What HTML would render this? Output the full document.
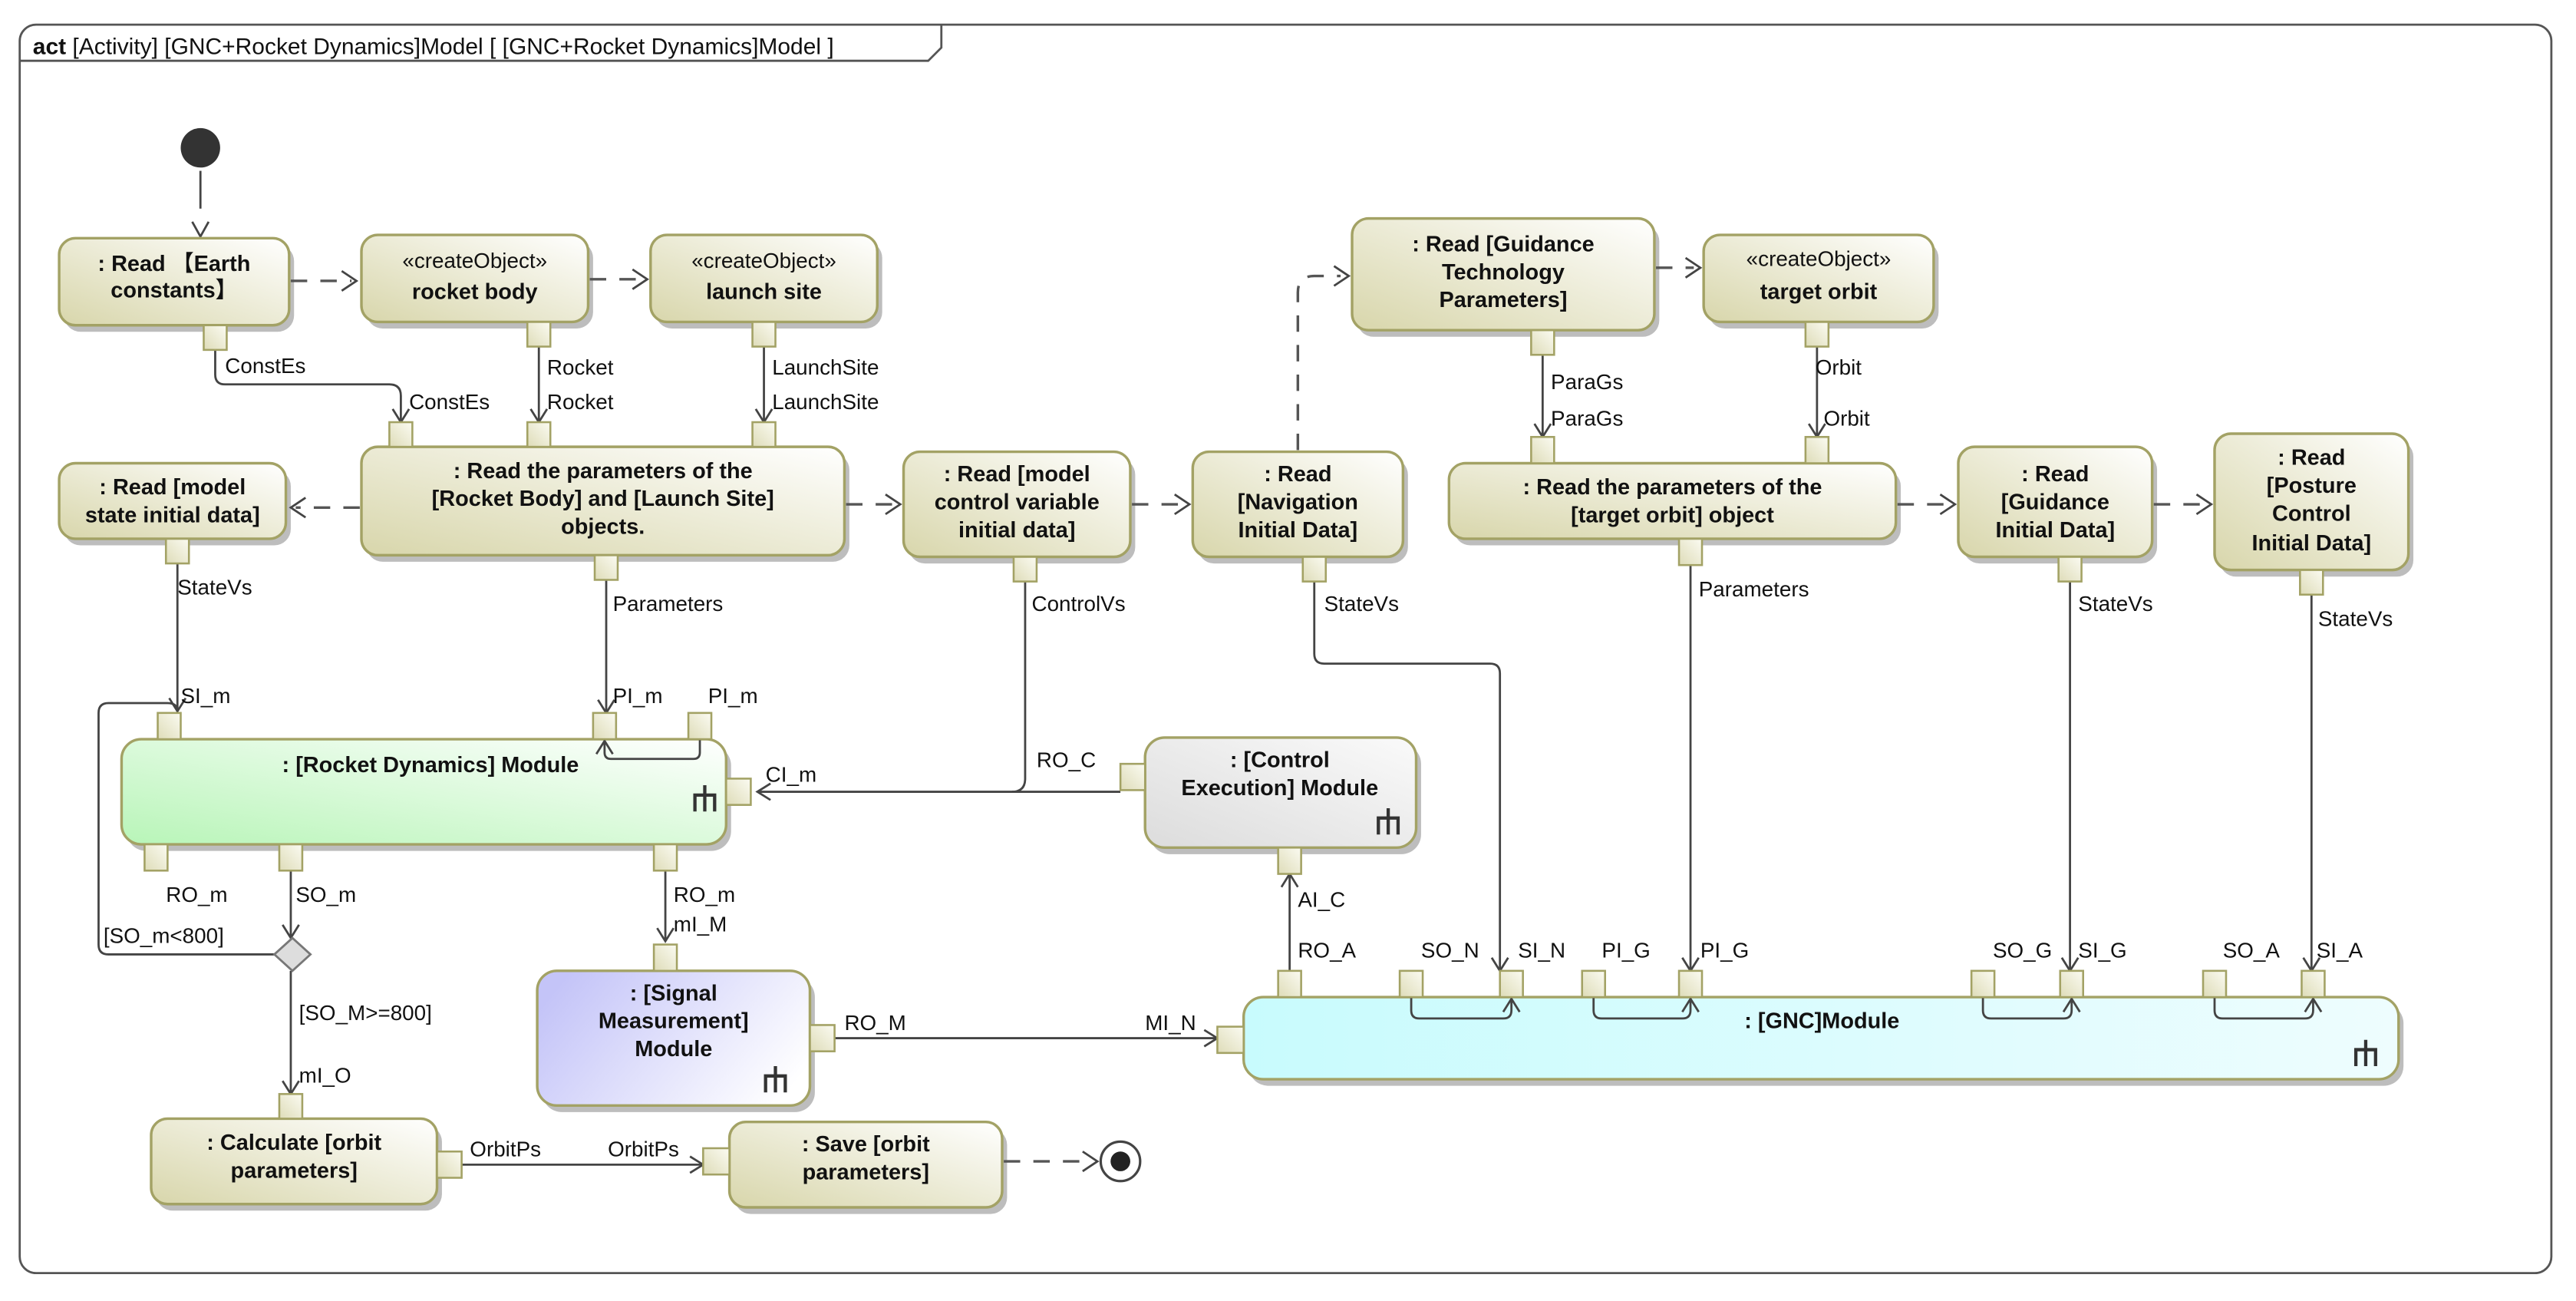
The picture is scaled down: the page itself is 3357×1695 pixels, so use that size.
<!DOCTYPE html>
<html><head><meta charset="utf-8"><style>
html,body{margin:0;padding:0;background:#fff;}
svg{display:block;}
.n{font-family:"Liberation Sans","Noto Sans CJK SC",sans-serif;font-weight:bold;font-size:13.5px;fill:#111;text-anchor:middle;}
.s{font-family:"Liberation Sans","Noto Sans CJK SC",sans-serif;font-size:13px;fill:#111;text-anchor:middle;}
.l{font-family:"Liberation Sans",sans-serif;font-size:13px;fill:#111;}
.e{fill:none;stroke:#444;stroke-width:1.3;}
.d{fill:none;stroke:#555;stroke-width:1.6;stroke-dasharray:10,8;}
.a{fill:none;stroke:#444;stroke-width:1.3;}
.o{fill:url(#go);stroke:#a3a265;stroke-width:1.6;}
.p{fill:url(#gp);stroke:#a3a265;stroke-width:1.2;}
.sh{fill:#bdbdbd;}
</style></head><body>
<svg width="3357" height="1695" viewBox="0 0 1568 792" preserveAspectRatio="none" xmlns="http://www.w3.org/2000/svg">
<defs>
<linearGradient id="go" x1="0" y1="1" x2="1" y2="0"><stop offset="0" stop-color="#d8d6ab"/><stop offset="1" stop-color="#ffffff"/></linearGradient>
<linearGradient id="gp" x1="0" y1="1" x2="1" y2="0"><stop offset="0" stop-color="#dedcb8"/><stop offset="1" stop-color="#fbfbf2"/></linearGradient>
<linearGradient id="gg" x1="0" y1="1" x2="1" y2="0"><stop offset="0" stop-color="#b8f5b8"/><stop offset="1" stop-color="#ffffff"/></linearGradient>
<linearGradient id="gl" x1="0" y1="0.3" x2="1" y2="0.7"><stop offset="0" stop-color="#c4c4f8"/><stop offset="1" stop-color="#ffffff"/></linearGradient>
<linearGradient id="gc" x1="0" y1="0" x2="1" y2="0"><stop offset="0" stop-color="#c8fbfd"/><stop offset="1" stop-color="#eefdfe"/></linearGradient>
<linearGradient id="gy" x1="0" y1="1" x2="1" y2="0"><stop offset="0" stop-color="#dcdcdc"/><stop offset="1" stop-color="#fafafa"/></linearGradient>
</defs>

<!-- frame -->
<rect x="12" y="15" width="1541" height="760" rx="10" fill="#fff" stroke="#555" stroke-width="1.3"/>
<path d="M12 37 H565 L573 29 V15" fill="none" stroke="#555" stroke-width="1.3"/>
<text x="20" y="33" class="l" style="font-size:14px"><tspan font-weight="bold">act</tspan> [Activity] [GNC+Rocket Dynamics]Model [ [GNC+Rocket Dynamics]Model ]</text>

<!-- initial node -->
<circle cx="122" cy="90" r="12" fill="#333"/>
<line x1="122" y1="104" x2="122" y2="127" class="e"/>
<polyline points="117,135 122,144 127,135" class="a"/>

<!-- shadows -->
<g class="sh">
<rect x="39" y="149" width="140" height="53" rx="10"/>
<rect x="223" y="147" width="138" height="53" rx="10"/>
<rect x="399" y="147" width="138" height="53" rx="10"/>
<rect x="39" y="286" width="138" height="46" rx="10"/>
<rect x="223" y="276" width="294" height="66" rx="10"/>
<rect x="553" y="279" width="138" height="64" rx="10"/>
<rect x="729" y="279" width="128" height="64" rx="10"/>
<rect x="826" y="137" width="184" height="68" rx="10"/>
<rect x="1040" y="147" width="140" height="53" rx="10"/>
<rect x="885" y="286" width="272" height="46" rx="10"/>
<rect x="1195" y="276" width="118" height="67" rx="10"/>
<rect x="1351" y="268" width="118" height="83" rx="10"/>
<rect x="77" y="454" width="368" height="64" rx="12"/>
<rect x="700" y="453" width="165" height="67" rx="12"/>
<rect x="330" y="595" width="166" height="82" rx="12"/>
<rect x="760" y="611" width="703" height="50" rx="12"/>
<rect x="95" y="685" width="174" height="52" rx="10"/>
<rect x="447" y="687" width="166" height="52" rx="10"/>
</g>

<!-- action nodes -->
<rect x="36" y="145" width="140" height="53" rx="10" class="o"/>
<text x="106" y="165" class="n">: Read 【Earth</text><text x="106" y="181" class="n">constants】</text>
<rect x="220" y="143" width="138" height="53" rx="10" class="o"/>
<text x="289" y="163" class="s">«createObject»</text><text x="289" y="182" class="n">rocket body</text>
<rect x="396" y="143" width="138" height="53" rx="10" class="o"/>
<text x="465" y="163" class="s">«createObject»</text><text x="465" y="182" class="n">launch site</text>
<rect x="36" y="282" width="138" height="46" rx="10" class="o"/>
<text x="105" y="301" class="n">: Read [model</text><text x="105" y="318" class="n">state initial data]</text>
<rect x="220" y="272" width="294" height="66" rx="10" class="o"/>
<text x="367" y="291" class="n">: Read the parameters of the</text><text x="367" y="308" class="n">[Rocket Body] and [Launch Site]</text><text x="367" y="325" class="n">objects.</text>
<rect x="550" y="275" width="138" height="64" rx="10" class="o"/>
<text x="619" y="293" class="n">: Read [model</text><text x="619" y="310" class="n">control variable</text><text x="619" y="327" class="n">initial data]</text>
<rect x="726" y="275" width="128" height="64" rx="10" class="o"/>
<text x="790" y="293" class="n">: Read</text><text x="790" y="310" class="n">[Navigation</text><text x="790" y="327" class="n">Initial Data]</text>
<rect x="823" y="133" width="184" height="68" rx="10" class="o"/>
<text x="915" y="153" class="n">: Read [Guidance</text><text x="915" y="170" class="n">Technology</text><text x="915" y="187" class="n">Parameters]</text>
<rect x="1037" y="143" width="140" height="53" rx="10" class="o"/>
<text x="1107" y="162" class="s">«createObject»</text><text x="1107" y="182" class="n">target orbit</text>
<rect x="882" y="282" width="272" height="46" rx="10" class="o"/>
<text x="1018" y="301" class="n">: Read the parameters of the</text><text x="1018" y="318" class="n">[target orbit] object</text>
<rect x="1192" y="272" width="118" height="67" rx="10" class="o"/>
<text x="1251" y="293" class="n">: Read</text><text x="1251" y="310" class="n">[Guidance</text><text x="1251" y="327" class="n">Initial Data]</text>
<rect x="1348" y="264" width="118" height="83" rx="10" class="o"/>
<text x="1407" y="283" class="n">: Read</text><text x="1407" y="300" class="n">[Posture</text><text x="1407" y="317" class="n">Control</text><text x="1407" y="335" class="n">Initial Data]</text>

<!-- modules -->
<rect x="74" y="450" width="368" height="64" rx="12" fill="url(#gg)" stroke="#a3a265" stroke-width="1.6"/>
<text x="262" y="470" class="n">: [Rocket Dynamics] Module</text>
<rect x="697" y="449" width="165" height="67" rx="12" fill="url(#gy)" stroke="#a3a265" stroke-width="1.6"/>
<text x="779" y="467" class="n">: [Control</text><text x="779" y="484" class="n">Execution] Module</text>
<rect x="327" y="591" width="166" height="82" rx="12" fill="url(#gl)" stroke="#a3a265" stroke-width="1.6"/>
<text x="410" y="609" class="n">: [Signal</text><text x="410" y="626" class="n">Measurement]</text><text x="410" y="643" class="n">Module</text>
<rect x="757" y="607" width="703" height="50" rx="12" fill="url(#gc)" stroke="#a3a265" stroke-width="1.6"/>
<text x="1109" y="626" class="n">: [GNC]Module</text>
<rect x="92" y="681" width="174" height="52" rx="10" class="o"/>
<text x="179" y="700" class="n">: Calculate [orbit</text><text x="179" y="717" class="n">parameters]</text>
<rect x="444" y="683" width="166" height="52" rx="10" class="o"/>
<text x="527" y="701" class="n">: Save [orbit</text><text x="527" y="718" class="n">parameters]</text>

<!-- fork icons -->
<g fill="none" stroke="#333" stroke-width="2">
<path d="M423 494 V484 H435 V494 M429 494 V478"/>
<path d="M839 508 V498 H851 V508 M845 508 V492"/>
<path d="M466 665 V655 H478 V665 M472 665 V649"/>
<path d="M1434 649 V639 H1446 V649 M1440 649 V633"/>
</g>

<!-- control flows (dashed) -->
<line x1="177" y1="171" x2="214" y2="171" class="d"/><polyline points="208,165 217,171 208,177" class="a"/>
<line x1="359" y1="170" x2="390" y2="170" class="d"/><polyline points="385,164 394,170 385,176" class="a"/>
<line x1="219" y1="309" x2="180" y2="309" class="d"/><polyline points="186,303 177,309 186,315" class="a"/>
<line x1="515" y1="307" x2="544" y2="307" class="d"/><polyline points="539,301 548,307 539,313" class="a"/>
<line x1="689" y1="307" x2="720" y2="307" class="d"/><polyline points="715,301 724,307 715,313" class="a"/>
<path d="M790 274 V178 Q790 168 800 168 H816" class="d"/><polyline points="812,162 821,168 812,174" class="a"/>
<line x1="1008" y1="163" x2="1031" y2="163" class="d"/><polyline points="1026,157 1035,163 1026,169" class="a"/>
<line x1="1155" y1="307" x2="1186" y2="307" class="d"/><polyline points="1181,301 1190,307 1181,313" class="a"/>
<line x1="1311" y1="307" x2="1342" y2="307" class="d"/><polyline points="1337,301 1346,307 1337,313" class="a"/>
<line x1="611" y1="707" x2="660" y2="707" class="d"/><polyline points="659,701 668,707 659,713" class="a"/>
<circle cx="682" cy="707" r="12" fill="#fff" stroke="#444" stroke-width="1.5"/>
<circle cx="682" cy="707" r="6" fill="#222"/>

<!-- object flows -->
<g class="e">
<path d="M131 213 V228 Q131 234 137 234 H237 Q244 234 244 241 V257"/>
<line x1="328" y1="211" x2="328" y2="257"/>
<line x1="465" y1="211" x2="465" y2="257"/>
<line x1="939" y1="216" x2="939" y2="266"/>
<line x1="1106" y1="211" x2="1106" y2="266"/>
<line x1="108" y1="343" x2="108" y2="433"/>
<line x1="369" y1="353" x2="369" y2="434"/>
<path d="M426 450 V458 Q426 462 422 462 H372 Q368 462 368 458 V451"/>
<path d="M624 354 V474 Q624 482 616 482 H461"/>
<line x1="682" y1="482" x2="616" y2="482"/>
<path d="M800 354 V398 Q800 404 806 404 H907 Q913 404 913 410 V591"/>
<line x1="1029" y1="344" x2="1029" y2="591"/>
<line x1="1260" y1="354" x2="1260" y2="591"/>
<line x1="1407" y1="362" x2="1407" y2="591"/>
<line x1="785" y1="591" x2="785" y2="532"/>
<path d="M859 607 V615 Q859 620 864 620 H915 Q920 620 920 615 V608"/>
<path d="M970 607 V615 Q970 620 975 620 H1024 Q1029 620 1029 615 V608"/>
<path d="M1207 607 V615 Q1207 620 1212 620 H1256 Q1261 620 1261 615 V608"/>
<path d="M1348 607 V615 Q1348 620 1353 620 H1403 Q1408 620 1408 615 V608"/>
<line x1="508" y1="632" x2="741" y2="632"/>
<line x1="405" y1="530" x2="405" y2="573"/>
<line x1="177" y1="530" x2="177" y2="571"/>
<path d="M168 581 H66 Q60 581 60 575 V434 Q60 428 66 428 H102 Q108 428 108 433"/>
<line x1="177" y1="591" x2="177" y2="666"/>
<line x1="281" y1="709" x2="428" y2="709"/>
<line x1="95" y1="516" x2="95" y2="527"/>
</g>
<!-- arrowheads -->
<g class="a">
<polyline points="239,249 244,257 249,249"/>
<polyline points="323,249 328,257 333,249"/>
<polyline points="460,249 465,257 470,249"/>
<polyline points="934,258 939,266 944,258"/>
<polyline points="1101,258 1106,266 1111,258"/>
<polyline points="103,425 108,433 113,425"/>
<polyline points="364,426 369,434 374,426"/>
<polyline points="363,459 368,451 373,459"/>
<polyline points="469,477 461,482 469,487"/>
<polyline points="908,583 913,591 918,583"/>
<polyline points="1024,583 1029,591 1034,583"/>
<polyline points="1255,583 1260,591 1265,583"/>
<polyline points="1402,583 1407,591 1412,583"/>
<polyline points="780,540 785,532 790,540"/>
<polyline points="915,616 920,608 925,616"/>
<polyline points="1024,616 1029,608 1034,616"/>
<polyline points="1256,616 1261,608 1266,616"/>
<polyline points="1403,616 1408,608 1413,616"/>
<polyline points="733,627 741,632 733,637"/>
<polyline points="400,565 405,573 410,565"/>
<polyline points="172,563 177,571 182,563"/>
<polyline points="172,658 177,666 182,658"/>
<polyline points="420,704 428,709 420,714"/>
<polyline points="92,523 95,527 98,523"/>
</g>
<!-- decision -->
<polygon points="178,571 189,581 178,591 167,581" fill="#ddd" stroke="#777" stroke-width="1.3"/>

<!-- pins -->
<g class="p">
<rect x="124" y="198" width="14" height="15"/>
<rect x="321" y="196" width="14" height="15"/>
<rect x="458" y="196" width="14" height="15"/>
<rect x="237" y="257" width="14" height="15"/>
<rect x="321" y="257" width="14" height="15"/>
<rect x="458" y="257" width="14" height="15"/>
<rect x="101" y="328" width="14" height="15"/>
<rect x="362" y="338" width="14" height="15"/>
<rect x="617" y="339" width="14" height="15"/>
<rect x="793" y="339" width="14" height="15"/>
<rect x="932" y="201" width="14" height="15"/>
<rect x="1099" y="196" width="14" height="15"/>
<rect x="932" y="266" width="14" height="16"/>
<rect x="1099" y="266" width="14" height="16"/>
<rect x="1022" y="328" width="14" height="16"/>
<rect x="1253" y="339" width="14" height="15"/>
<rect x="1400" y="347" width="14" height="15"/>
<rect x="96" y="434" width="14" height="16"/>
<rect x="361" y="434" width="14" height="16"/>
<rect x="419" y="434" width="14" height="16"/>
<rect x="442" y="474" width="15" height="16"/>
<rect x="682" y="465" width="15" height="16"/>
<rect x="88" y="514" width="14" height="16"/>
<rect x="170" y="514" width="14" height="16"/>
<rect x="398" y="514" width="14" height="16"/>
<rect x="398" y="575" width="14" height="16"/>
<rect x="778" y="516" width="14" height="16"/>
<rect x="493" y="624" width="15" height="16"/>
<rect x="741" y="625" width="16" height="16"/>
<rect x="778" y="591" width="14" height="16"/>
<rect x="852" y="591" width="14" height="16"/>
<rect x="913" y="591" width="14" height="16"/>
<rect x="963" y="591" width="14" height="16"/>
<rect x="1022" y="591" width="14" height="16"/>
<rect x="1200" y="591" width="14" height="16"/>
<rect x="1254" y="591" width="14" height="16"/>
<rect x="1341" y="591" width="14" height="16"/>
<rect x="1401" y="591" width="14" height="16"/>
<rect x="170" y="666" width="14" height="15"/>
<rect x="266" y="701" width="15" height="16"/>
<rect x="428" y="699" width="16" height="16"/>
</g>

<!-- edge labels -->
<g class="l">
<text x="137" y="227">ConstEs</text>
<text x="249" y="249">ConstEs</text>
<text x="333" y="228">Rocket</text>
<text x="333" y="249">Rocket</text>
<text x="470" y="228">LaunchSite</text>
<text x="470" y="249">LaunchSite</text>
<text x="944" y="237">ParaGs</text>
<text x="944" y="259">ParaGs</text>
<text x="1105" y="228">Orbit</text>
<text x="1110" y="259">Orbit</text>
<text x="108" y="362">StateVs</text>
<text x="373" y="372">Parameters</text>
<text x="628" y="372">ControlVs</text>
<text x="806" y="372">StateVs</text>
<text x="1034" y="363">Parameters</text>
<text x="1265" y="372">StateVs</text>
<text x="1411" y="381">StateVs</text>
<text x="110" y="428">SI_m</text>
<text x="373" y="428">PI_m</text>
<text x="431" y="428">PI_m</text>
<text x="466" y="476">CI_m</text>
<text x="631" y="467">RO_C</text>
<text x="101" y="549">RO_m</text>
<text x="180" y="549">SO_m</text>
<text x="410" y="549">RO_m</text>
<text x="410" y="567">mI_M</text>
<text x="63" y="574">[SO_m&lt;800]</text>
<text x="182" y="621">[SO_M&gt;=800]</text>
<text x="182" y="659">mI_O</text>
<text x="286" y="704">OrbitPs</text>
<text x="370" y="704">OrbitPs</text>
<text x="514" y="627">RO_M</text>
<text x="697" y="627">MI_N</text>
<text x="790" y="552">AI_C</text>
<text x="790" y="583">RO_A</text>
<text x="865" y="583">SO_N</text>
<text x="924" y="583">SI_N</text>
<text x="975" y="583">PI_G</text>
<text x="1035" y="583">PI_G</text>
<text x="1213" y="583">SO_G</text>
<text x="1265" y="583">SI_G</text>
<text x="1353" y="583">SO_A</text>
<text x="1410" y="583">SI_A</text>
</g>
</svg>
</body></html>
